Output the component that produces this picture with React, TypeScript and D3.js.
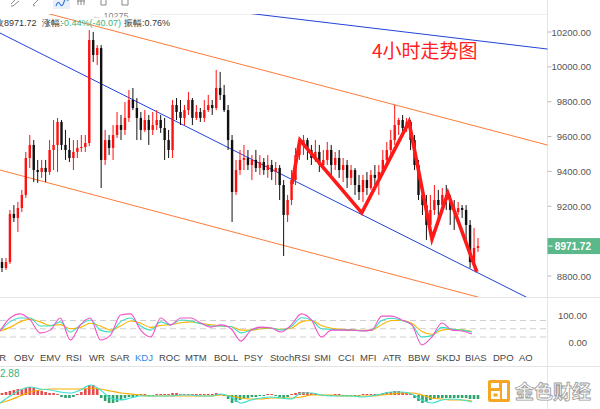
import React from 'react';
import * as d3 from 'd3';

// ---- DATA ----
// candles: [open, high, low, close]
const candles: [number, number, number, number][] = [
  [8880,8903,8823,8846],[8846,8903,8835,8880],[8880,9179,8869,9156],[9156,9207,9110,9133],
  [9133,9225,9053,9190],[9190,9294,9167,9265],[9265,9512,9248,9477],[9477,9609,9420,9552],
  [9552,9580,9339,9408],[9408,9466,9334,9397],[9397,9466,9363,9420],[9420,9466,9339,9397],
  [9397,9580,9380,9523],[9523,9695,9408,9552],[9552,9707,9397,9684],[9684,9695,9523,9552],
  [9552,9638,9466,9523],[9523,9592,9454,9477],[9477,9580,9408,9512],[9512,9580,9477,9535],
  [9535,9609,9512,9540],[9540,9609,9512,9563],[9563,10211,9546,10154],[10154,10200,10028,10068],
  [10068,10125,10011,10108],[10108,10125,9305,9466],[9466,9638,9437,9580],[9580,9609,9494,9535],
  [9535,9666,9466,9609],[9609,9741,9592,9666],[9666,9724,9580,9638],[9638,9798,9609,9707],
  [9707,9867,9684,9810],[9810,9879,9752,9764],[9764,9821,9580,9707],[9707,9741,9580,9638],
  [9638,9752,9626,9695],[9695,9724,9552,9638],[9638,9741,9609,9666],[9666,9752,9638,9695],
  [9695,9724,9621,9649],[9649,9707,9466,9580],[9580,9638,9477,9523],[9523,9810,9477,9781],
  [9781,9821,9695,9741],[9741,9810,9666,9707],[9707,9781,9666,9752],[9752,9856,9724,9810],
  [9810,9821,9666,9707],[9707,9781,9695,9741],[9741,9764,9684,9707],[9707,9810,9684,9752],
  [9752,9839,9741,9781],[9781,9810,9724,9764],[9764,9982,9752,9879],[9879,9971,9810,9839],
  [9839,9896,9741,9752],[9752,9781,9523,9580],[9580,9609,9110,9282],[9282,9466,9265,9408],
  [9408,9523,9380,9466],[9466,9552,9408,9477],[9477,9523,9408,9437],[9437,9494,9351,9466],
  [9466,9523,9397,9420],[9420,9494,9380,9454],[9454,9477,9380,9408],[9408,9494,9363,9437],
  [9437,9466,9351,9397],[9397,9454,9322,9420],[9420,9437,9236,9322],[9322,9351,8915,9150],
  [9150,9265,9110,9236],[9236,9408,9207,9351],[9351,9535,9322,9494],[9494,9592,9466,9552],
  [9552,9609,9494,9580],[9580,9592,9466,9523],[9523,9552,9437,9477],[9477,9580,9454,9512],
  [9512,9552,9397,9437],[9437,9523,9408,9466],[9466,9569,9437,9523],[9523,9552,9380,9437],
  [9437,9512,9408,9477],[9477,9523,9363,9408],[9408,9477,9339,9437],[9437,9466,9305,9363],
  [9363,9437,9322,9408],[9408,9420,9265,9322],[9322,9380,9236,9282],[9282,9380,9225,9351],
  [9351,9397,9265,9305],[9305,9408,9294,9380],[9380,9437,9322,9363],[9363,9437,9265,9397],
  [9397,9523,9380,9466],[9466,9569,9437,9523],[9523,9638,9494,9580],[9580,9781,9552,9666],
  [9666,9707,9609,9695],[9695,9724,9609,9649],[9649,9707,9626,9684],[9684,9695,9523,9580],
  [9580,9609,9408,9437],[9437,9466,9236,9265],[9265,9322,9150,9207],[9207,9265,9007,9093],
  [9093,9265,9075,9179],[9179,9322,9150,9236],[9236,9294,9093,9207],[9207,9305,9179,9265],
  [9265,9322,9179,9236],[9236,9265,9093,9179],[9179,9236,9064,9167],[9167,9225,9150,9190],
  [9190,9207,9133,9179],[9179,9207,9007,9093],[9093,9121,8846,8880],[8880,9075,8863,8961],
  [8961,9018,8938,8971.72],
];
const lastPrice = 8971.72;
const priceTicks = [8800, 9000, 9200, 9400, 9600, 9800, 10000, 10200];

// trend lines: [candle index, price]
const blueUpper: [number, number][] = [[63.8, 10303], [137.6, 10102]];
const orangeUpper: [number, number][] = [[12.9, 10298], [137.4, 9552]];
const blueLower: [number, number][] = [[-0.5, 10194], [131.1, 8691]];
const orangeLower: [number, number][] = [[-0.5, 9408], [118, 8691]];
const zigzag: [number, number][] = [
  [73.1, 9328], [75.1, 9580], [90.7, 9162], [102.6, 9684], [108.4, 9012], [112.4, 9276], [119.7, 8823],
];

// KDJ indicator
const kdjK = [42,75,89,89,60,60,75,38,64,82,45,38,75,89,60,45,75,64,82,78,68,60,60,58,35,45,54,53,45,58,90,82,50,48,45,45,43,45,80,88,80,65,20,25,55,48,45,38];
const kdjD = [42,55,75,85,75,62,65,50,55,70,60,45,60,78,70,55,62,65,72,75,70,64,60,58,45,45,50,52,48,52,75,80,62,52,48,46,44,45,65,80,80,70,40,30,45,48,46,40];
const kdjJ = [42,89,104,82,35,45,89,9,64,89,9,27,100,104,45,20,89,64,89,89,71,56,64,50,5,45,56,53,38,64,104,82,20,45,45,45,42,45,96,96,82,64,-9,20,71,45,42,31];
const kdjTicks = [0, 100];
const kdjGuides = [20, 50, 80];

// MACD
const macdHist = [2,3,4,5,6,6,7,8,7,5,4,3,2,2,1,-2,-3,-3,-2,1,3,6,10,10,7,-3,-6,-8,-8,-7,-5,-3,-2,-2,-1,1,1,-1,-1,1,1,1,1,2,2,1,1,1,1,1,1,1,1,1,2,1,-1,-4,-8,-7,-5,-3,-3,-2,-2,-1,-1,1,1,-1,-2,-4,-2,1,2,3,3,3,2,2,1,-1,-1,-1,1,1,-1,-1,-1,-1,-1,1,1,1,1,1,2,3,3,4,4,3,2,1,-3,-6,-8,-7,-5,-4,-3,-3,-3,-3,-3,-3,-3,-3,-4,-4,-4];
const macdDif = [-8,-1,5,8,6,5,3,2,5,10,5,-3,-5,-3,-1,-1,-1,-1,0,0,-1,-1,1,-2,-8,-5,-3,-2,-3,-4,2,2,0,-1,-1,-1,-2,-1,1,3,3,1,-5,-8,-5,-4,-5,-7];
const macdDea = [-8,-5,-1,3,5,6,6,6,6,7,6,4,2,1,0,-1,-1,-1,-1,-1,-1,-1,0,-1,-3,-4,-4,-3,-3,-3,-2,0,0,0,-1,-1,-1,-1,0,1,2,2,0,-3,-4,-5,-5,-6];

const tabLabels = ['VR','OBV','EMV','RSI','WR','SAR','KDJ','ROC','MTM','BOLL','PSY','StochRSI','SMI','CCI','MFI','ATR','BBW','SKDJ','BIAS','DPO','AO'];
const activeTab = 'KDJ';
const headerClose = '收8971.72';
const headerChgLabel = '涨幅:';
const headerChg = '-0.44%(-40.07)';
const headerAmp = '振幅:0.76%';
const maxMarker = '← 10275';
const title = '4小时走势图';
const macdLabel = '2.88';
const watermark = '金色财经';

// ---- LAYOUT ----
const W = 600, H = 409;
const AXIS_X = 547.5;
const tabX = [-7,14,40,66,89,110,135,159,185,214,244,270,314,338,360,383,408,436,465,493,519];
const FONT = '"Liberation Sans", Arial, sans-serif';
const UP = '#ff1010', DOWN = '#111111';

function extend(pts: [number, number][], a: number, b: number): [number, number][] {
  const [[i0, p0], [i1, p1]] = pts;
  const f = (t: number) => p0 + (p1 - p0) * (t - i0) / (i1 - i0);
  return [[a, f(a)], [b, f(b)]];
}

export default function App() {
  const x = d3.scaleLinear().domain([0, candles.length - 1]).range([2, 478]);
  const y = d3.scaleLinear().domain([8800, 10200]).range([276, 32]);
  const subX = d3.scaleLinear().domain([0, kdjK.length - 1]).range([x(-0.5), x(118.5)]);
  const kY = d3.scaleLinear().domain([0, 100]).range([342.5, 315]);
  const mY = d3.scaleLinear().domain([-10, 10]).range([405, 385]);

  const trend = d3.line<[number, number]>().x(d => x(d[0])).y(d => y(d[1]));
  const subLine = (scale: d3.ScaleLinear<number, number>) =>
    d3.line<number>().x((_, i) => subX(i)).y(d => scale(d)).curve(d3.curveMonotoneX);

  const bw = 2.4;
  const boxTop = y(lastPrice) - 8;

  return (
    <svg width={W} height={H} style={{ position: 'fixed', left: 0, top: 0, background: '#fff' }} fontFamily={FONT}>
      <defs>
        <clipPath id="mainClip"><rect x={0} y={14} width={AXIS_X} height={283} /></clipPath>
        <clipPath id="markerClip"><rect x={0} y={12.5} width={AXIS_X} height={5} /></clipPath>
        <clipPath id="hiddenTick"><rect x={AXIS_X} y={0} width={W - AXIS_X} height={boxTop} /></clipPath>
      </defs>
      <rect x={0} y={0} width={W} height={H} fill="#fff" />

      {/* toolbar icons (partially visible) */}
      <g stroke="#888" strokeWidth={1} fill="none">
        <path d="M11,4 L15,0 M13,6 L19,1 M11,6 L13,6" />
        <path d="M33,5 L38,0 M33,5 L35,6" />
        <path d="M78,0 L78,5 M81,0 L81,5 M84,0 L84,5 M77,1 L85,1" />
        <path d="M101,0 L101,5 L106,5 L106,0" />
        <path d="M122,0 L122,5 L128,5 L128,0" />
      </g>
      <rect x={53} y={0} width={17} height={9} fill="#e7f0fb" />
      <path d="M56,6 q2,-6 4,-2 t4,-2 t4,-1" stroke="#3b7ddd" strokeWidth={1.2} fill="none" />

      {/* grid / separators */}
      <line x1={150} x2={AXIS_X} y1={14.5} y2={14.5} stroke="#efefef" />
      <line x1={0} x2={W} y1={297.5} y2={297.5} stroke="#e4e4e4" />
      <line x1={0} x2={W} y1={366.5} y2={366.5} stroke="#e4e4e4" />
      <line x1={AXIS_X} x2={AXIS_X} y1={0} y2={H} stroke="#e4e4e4" />

      {/* main plot */}
      <g clipPath="url(#mainClip)">
        <path d={trend(extend(blueUpper, 40, 145)) || ''} stroke="#2343d8" strokeWidth={1} fill="none" />
        <path d={trend(extend(orangeUpper, -5, 145)) || ''} stroke="#ff7b3a" strokeWidth={1} fill="none" />
        <path d={trend(extend(blueLower, -5, 145)) || ''} stroke="#2343d8" strokeWidth={1} fill="none" />
        <path d={trend(extend(orangeLower, -5, 145)) || ''} stroke="#ff7b3a" strokeWidth={1} fill="none" />
        {candles.map((c, i) => {
          const [o, h, l, cl] = c;
          const col = cl >= o ? UP : DOWN;
          const cx = x(i);
          const top = y(Math.max(o, cl));
          const bot = y(Math.min(o, cl));
          return (
            <g key={i}>
              <line x1={cx} x2={cx} y1={y(h)} y2={y(l)} stroke={col} strokeWidth={1} />
              <rect x={cx - bw / 2} y={top} width={bw} height={Math.max(1, bot - top)} fill={col} />
            </g>
          );
        })}
        <path d={trend(zigzag) || ''} stroke="#ff1a1a" strokeWidth={3.6} fill="none" strokeLinejoin="miter" strokeLinecap="butt" />
      </g>
      <g clipPath="url(#markerClip)">
        <text x={92} y={19} fontSize={9} fill="#888">{maxMarker}</text>
      </g>

      {/* header */}
      <text y={25.5} fontSize={9} fill="#333">
        <tspan x={-5}>{headerClose}</tspan>
        <tspan x={42}>{headerChgLabel}</tspan>
        <tspan x={61} fill="#3cb27a">{headerChg}</tspan>
        <tspan x={124}>{headerAmp}</tspan>
      </text>

      <text x={372} y={58} fontSize={19} fill="#ff2020" fontFamily='"Noto Sans CJK SC", sans-serif'>{title}</text>

      {/* price axis */}
      {priceTicks.map(t => {
        const hidden = Math.abs(y(t) - y(lastPrice)) < 12;
        return (
          <g key={t} clipPath={hidden ? 'url(#hiddenTick)' : undefined}>
            <line x1={AXIS_X} x2={AXIS_X + 4} y1={y(t)} y2={y(t)} stroke="#bbb" />
            <text x={591} y={y(t) + 3.5} fontSize={9.5} fill="#555" textAnchor="end">{t.toFixed(2)}</text>
          </g>
        );
      })}
      <rect x={AXIS_X} y={boxTop} width={W - AXIS_X} height={16} fill="#5bb88a" />
      <line x1={AXIS_X + 1} x2={AXIS_X + 5} y1={y(lastPrice)} y2={y(lastPrice)} stroke="#fff" />
      <text x={591} y={y(lastPrice) + 3.5} fontSize={10} fill="#fff" textAnchor="end" fontWeight="bold">{lastPrice.toFixed(2)}</text>

      {/* KDJ panel */}
      {kdjGuides.map(g => (
        <line key={g} x1={0} x2={AXIS_X} y1={kY(g)} y2={kY(g)} stroke="#cfcfcf" strokeDasharray="6,4" />
      ))}
      {kdjTicks.map(t => (
        <text key={t} x={587} y={kY(t) + 3.5} fontSize={9.5} fill="#555" textAnchor="end">{t.toFixed(2)}</text>
      ))}
      <path d={subLine(kY)(kdjD) || ''} stroke="#ffb300" strokeWidth={1.1} fill="none" />
      <path d={subLine(kY)(kdjK) || ''} stroke="#38dcc4" strokeWidth={1.1} fill="none" />
      <path d={subLine(kY)(kdjJ) || ''} stroke="#f054c8" strokeWidth={1.1} fill="none" />

      {/* tabs */}
      {tabLabels.map((t, i) => (
        <text key={t} x={tabX[i]} y={361} fontSize={9.5} fill={t === activeTab ? '#2f86e8' : '#444'}>{t}</text>
      ))}

      {/* MACD panel */}
      <text x={0} y={377} fontSize={10} fill="#3cb27a">{macdLabel}</text>
      {macdHist.map((v, i) => (
        <rect key={i} x={x(i) - 1.3} width={2.6} y={Math.min(mY(v), mY(0))} height={Math.max(0.8, Math.abs(mY(v) - mY(0)))}
          fill={v >= 0 ? '#e84a4a' : '#2ea36e'} />
      ))}
      <path d={subLine(mY)(macdDea) || ''} stroke="#f5ad00" strokeWidth={1.2} fill="none" />
      <path d={subLine(mY)(macdDif) || ''} stroke="#40e0d0" strokeWidth={1.2} fill="none" />

      {/* watermark */}
      <g>
        <rect x={488} y={380} width={22} height={22} rx={2} fill="#f5a623" />
        <rect x={491} y={391} width={9} height={8} fill="#fff" />
        <rect x={493.5} y={393.5} width={4} height={3} fill="#f5a623" />
        <rect x={502} y={383} width={5} height={16} fill="#fff" />
        <rect x={491} y={383} width={8} height={5} fill="#fff" />
        <text x={515} y={399} fontSize={19} fontWeight="bold" fill="#fff" stroke="#a0a0a0" strokeWidth={0.9}
          fontFamily='"Noto Sans CJK SC", sans-serif'>{watermark}</text>
      </g>
    </svg>
  );
}
